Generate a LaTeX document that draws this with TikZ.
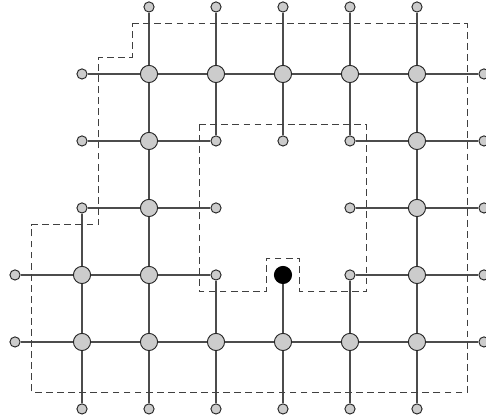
\documentclass[tikz,border=0pt]{standalone}
\usepackage{tikz}

\tikzset{
  bignode/.style={circle, draw=black!85, line width=0.4pt, fill=black!20, minimum size=0.256cm, inner sep=0pt},
  smallnode/.style={circle, draw=black!85, line width=0.4pt, fill=black!20, minimum size=0.152cm, inner sep=0pt},
  holenode/.style={circle, draw=black, fill=black, minimum size=0.256cm, inner sep=0pt},
  link/.style={draw=black!70, line width=0.55pt},
  cut/.style={draw=black!75, line width=0.5pt, dash pattern=on 2.9pt off 1.8pt}
}

\begin{document}
\begin{tikzpicture}[x=1cm, y=-1cm]
    \useasboundingbox (-0.224,-0.104) rectangle (7.030,6.164);

    % Top row of stubs
    \node[smallnode] (n20) at (2,0) {}; \node[smallnode] (n30) at (3,0) {};
    \node[smallnode] (n40) at (4,0) {}; \node[smallnode] (n50) at (5,0) {};
    \node[smallnode] (n60) at (6,0) {};

    % Row 1
    \node[smallnode] (n11) at (1,1) {};
    \node[bignode] (n21) at (2,1) {}; \node[bignode] (n31) at (3,1) {};
    \node[bignode] (n41) at (4,1) {}; \node[bignode] (n51) at (5,1) {};
    \node[bignode] (n61) at (6,1) {};
    \node[smallnode] (n71) at (7,1) {};

    % Row 2
    \node[smallnode] (n12) at (1,2) {};
    \node[bignode] (n22) at (2,2) {};
    \node[smallnode] (n32) at (3,2) {}; \node[smallnode] (n42) at (4,2) {};
    \node[smallnode] (n52) at (5,2) {};
    \node[bignode] (n62) at (6,2) {};
    \node[smallnode] (n72) at (7,2) {};

    % Row 3
    \node[smallnode] (n13) at (1,3) {};
    \node[bignode] (n23) at (2,3) {};
    \node[smallnode] (n33) at (3,3) {}; \node[smallnode] (n53) at (5,3) {};
    \node[bignode] (n63) at (6,3) {};
    \node[smallnode] (n73) at (7,3) {};

    % Row 4 (with the black node)
    \node[smallnode] (n04) at (0,4) {};
    \node[bignode] (n14) at (1,4) {}; \node[bignode] (n24) at (2,4) {};
    \node[smallnode] (n34) at (3,4) {};
    \node[holenode] (n44) at (4,4) {};
    \node[smallnode] (n54) at (5,4) {};
    \node[bignode] (n64) at (6,4) {};
    \node[smallnode] (n74) at (7,4) {};

    % Row 5
    \node[smallnode] (n05) at (0,5) {};
    \node[bignode] (n15) at (1,5) {}; \node[bignode] (n25) at (2,5) {};
    \node[bignode] (n35) at (3,5) {}; \node[bignode] (n45) at (4,5) {};
    \node[bignode] (n55) at (5,5) {}; \node[bignode] (n65) at (6,5) {};
    \node[smallnode] (n75) at (7,5) {};

    % Bottom row of stubs
    \node[smallnode] (n16) at (1,6) {}; \node[smallnode] (n26) at (2,6) {};
    \node[smallnode] (n36) at (3,6) {}; \node[smallnode] (n46) at (4,6) {};
    \node[smallnode] (n56) at (5,6) {}; \node[smallnode] (n66) at (6,6) {};

    % Horizontal links
    \draw[link] (n11) -- (n21) -- (n31) -- (n41) -- (n51) -- (n61) -- (n71);
    \draw[link] (n12) -- (n22) -- (n32);
    \draw[link] (n52) -- (n62) -- (n72);
    \draw[link] (n13) -- (n23) -- (n33);
    \draw[link] (n53) -- (n63) -- (n73);
    \draw[link] (n04) -- (n14) -- (n24) -- (n34);
    \draw[link] (n54) -- (n64) -- (n74);
    \draw[link] (n05) -- (n15) -- (n25) -- (n35) -- (n45) -- (n55) -- (n65) -- (n75);

    % Vertical links
    \draw[link] (n13) -- (n14) -- (n15) -- (n16);
    \draw[link] (n20) -- (n21) -- (n22) -- (n23) -- (n24) -- (n25) -- (n26);
    \draw[link] (n30) -- (n31) -- (n32);
    \draw[link] (n34) -- (n35) -- (n36);
    \draw[link] (n40) -- (n41) -- (n42);
    \draw[link] (n44) -- (n45) -- (n46);
    \draw[link] (n50) -- (n51) -- (n52);
    \draw[link] (n54) -- (n55) -- (n56);
    \draw[link] (n60) -- (n61) -- (n62) -- (n63) -- (n64) -- (n65) -- (n66);

    % Dashed outer and inner boundaries
    \draw[cut] (1.75,0.25) -- (6.75,0.25) -- (6.75,5.75) -- (0.25,5.75) -- (0.25,3.25)
               -- (1.25,3.25) -- (1.25,0.75) -- (1.75,0.75) -- cycle;
    \draw[cut] (2.75,1.75) -- (5.25,1.75) -- (5.25,4.25) -- (4.25,4.25) -- (4.25,3.75)
               -- (3.75,3.75) -- (3.75,4.25) -- (2.75,4.25) -- cycle;
\end{tikzpicture}
\end{document}
